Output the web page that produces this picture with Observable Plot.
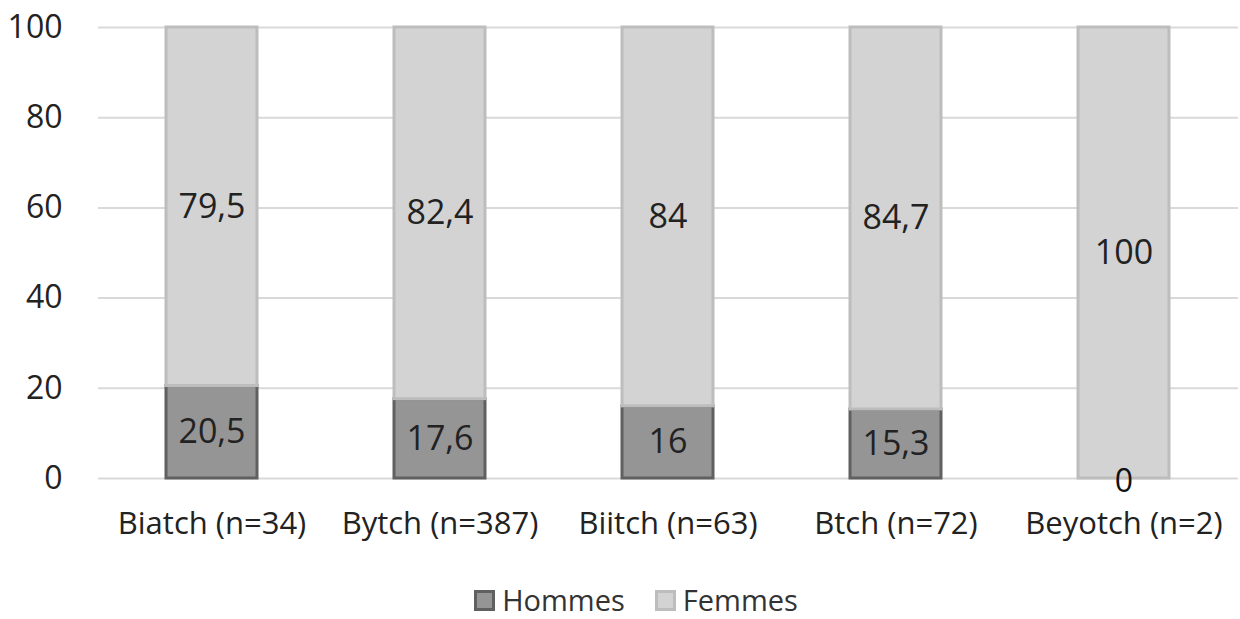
<!DOCTYPE html>
<html><head><meta charset="utf-8">
<script src="https://cdn.jsdelivr.net/npm/d3@7"></script>
<script src="https://cdn.jsdelivr.net/npm/@observablehq/plot@0.6"></script>
<style>
body{margin:0;background:#fff;font-family:"Open Sans",sans-serif;overflow:hidden}
#legend{display:flex;justify-content:center;gap:30px;font-size:29px;line-height:26px;color:#333;margin-top:27px;margin-left:32px}
#legend span.item{display:flex;align-items:center;gap:7px}
#legend span.sw{display:inline-block;width:15px;height:15px;border:3px solid}
</style></head><body>
<div id="chart"></div>
<div id="legend"></div>
<script>
const categories = ["Biatch (n=34)","Bytch (n=387)","Biitch (n=63)","Btch (n=72)","Beyotch (n=2)"];
const hommes = [20.5,17.6,16,15.3,0];
const femmes = [79.5,82.4,84,84.7,100];
const hommesLabels = ["20,5","17,6","16","15,3","0"];
const femmesLabels = ["79,5","82,4","84","84,7","100"];
const yTicks = [0,20,40,60,80,100];
const series = ["Hommes","Femmes"];
const fills = {Hommes:"#959595",Femmes:"#d3d3d3"};
const strokes = {Hommes:"#606060",Femmes:"#bdbdbd"};

const data = [];
categories.forEach((c,i)=>{
  data.push({cat:c,serie:"Hommes",y1:0,y2:hommes[i],label:hommesLabels[i]});
  data.push({cat:c,serie:"Femmes",y1:hommes[i],y2:hommes[i]+femmes[i],label:femmesLabels[i]});
});

const chart = Plot.plot({
  width:1240,height:560,
  marginLeft:98,marginRight:2,marginTop:27,marginBottom:82,
  style:{fontFamily:"Open Sans, sans-serif",fontSize:"28px",color:"#222",background:"#fff"},
  x:{domain:categories,paddingInner:0.6,paddingOuter:0.3,label:null,tickSize:0,tickPadding:33},
  y:{domain:[0,100],ticks:yTicks,label:null,tickSize:0,tickPadding:36},
  marks:[
    Plot.ruleY(yTicks,{stroke:"#d9d9d9",strokeWidth:2}),
    Plot.rectY(data,{x:"cat",y1:"y1",y2:"y2",fill:d=>fills[d.serie],stroke:d=>strokes[d.serie],strokeWidth:3}),
    Plot.text(data.filter(d=>!(d.serie==="Hommes"&&d.y2===0)),{x:"cat",y:d=>(d.y1+d.y2)/2,text:"label",fontSize:34,fill:"#222"}),
    Plot.text(data.filter(d=>d.serie==="Hommes"&&d.y2===0),{x:"cat",y:0,dy:3,text:"label",fontSize:32,fill:"#111"}),
    Plot.axisX({tickSize:0,tickPadding:33,fontSize:31,fill:"#222"}),
    Plot.axisY({ticks:yTicks,tickSize:0,tickPadding:36,fontSize:32,fill:"#222"})
  ]
});
document.getElementById("chart").appendChild(chart);
const lg=document.getElementById("legend");
series.forEach(s=>{
  const it=document.createElement("span");it.className="item";
  const sw=document.createElement("span");sw.className="sw";sw.style.background=fills[s];sw.style.borderColor=strokes[s];
  it.appendChild(sw);it.appendChild(document.createTextNode(s));lg.appendChild(it);
});
</script></body></html>
